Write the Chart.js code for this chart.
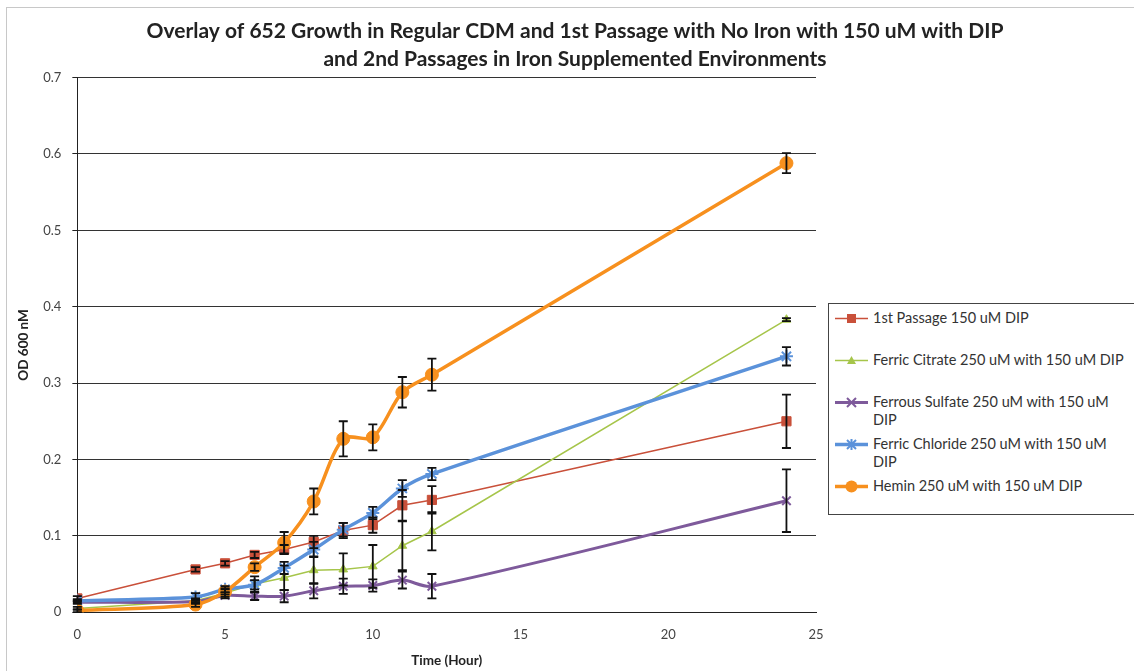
<!DOCTYPE html>
<html>
<head>
<meta charset="utf-8">
<script src="https://cdn.jsdelivr.net/npm/chart.js@4"></script>
<style>
  body { margin: 0; background: #fff; }
  #wrap { position: relative; width: 1134px; height: 671px; overflow: hidden; }
  #frame { position: absolute; left: 6px; top: 7px; width: 1140px; height: 680px; border: 1px solid #c8c8c8; }
  #legend {
    position: absolute; left: 828px; top: 303px; width: 310px; height: 212px;
    border: 1.5px solid #444; box-sizing: border-box; background: #fff;
    font-family: Lato, "Open Sans", sans-serif; font-size: 14.5px; color: #333;
  }
  .item { position: absolute; left: 6px; display: flex; align-items: flex-start; line-height: 18px; }
  .item svg { flex: none; margin-top: 3px; margin-right: 5px; }
  .item span { width: 256px; }
  canvas { position: relative; }
</style>
</head>
<body>
<div id="wrap">
  <div id="frame"></div>
  <canvas id="chart" width="1134" height="671"></canvas>
  <div id="legend"></div>
</div>
<script>
/* ------------------
  data
-------------------*/
var times = [0, 4, 5, 6, 7, 8, 9, 10, 11, 12, 24];

var seriesNames = [
  "1st Passage  150 uM DIP",
  "Ferric Citrate 250 uM with  150 uM DIP",
  "Ferrous Sulfate 250 uM  with  150 uM DIP",
  "Ferric Chloride 250 uM with  150 uM DIP",
  "Hemin 250 uM with 150 uM DIP"
];

var passage1      = [0.018, 0.056, 0.064, 0.075, 0.082, 0.092, 0.107, 0.114, 0.140, 0.147, 0.250];
var ferricCitrate = [0.005, 0.015, 0.025, 0.037, 0.045, 0.055, 0.056, 0.060, 0.087, 0.106, 0.383];
var ferrousSulf   = [0.013, 0.014, 0.022, 0.021, 0.021, 0.028, 0.034, 0.035, 0.042, 0.034, 0.146];
var ferricChlor   = [0.015, 0.020, 0.030, 0.036, 0.058, 0.082, 0.108, 0.130, 0.162, 0.181, 0.335];
var hemin         = [0.002, 0.010, 0.027, 0.059, 0.091, 0.145, 0.227, 0.229, 0.288, 0.311, 0.588];

// error bar half widths
var passage1Err      = [0.003, 0.003, 0.003, 0.004, 0.006, 0.008, 0.010, 0.010, 0.020, 0.018, 0.035];
var ferricCitrateErr = [0.002, 0.003, 0.005, 0.010, 0.016, 0.018, 0.021, 0.028, 0.032, 0.025, 0.002];
var ferrousSulfErr   = [0.002, 0.003, 0.004, 0.005, 0.008, 0.010, 0.010, 0.008, 0.011, 0.016, 0.041];
var ferricChlorErr   = [0.002, 0.005, 0.004, 0.006, 0.008, 0.010, 0.009, 0.008, 0.011, 0.008, 0.012];
var heminErr         = [0.002, 0.003, 0.004, 0.005, 0.014, 0.017, 0.023, 0.017, 0.020, 0.021, 0.013];

var colors = ["#C9503A", "#A6C54A", "#7E5A9B", "#5B92DA", "#F7901E"];

function pts(arr) {
  return arr.map(function (v, i) { return { x: times[i], y: v }; });
}

/* ------------------
  error bar plugin
-------------------*/
var errorBars = {
  id: 'errorBars',
  afterDatasetsDraw: function (chart) {
    var ctx = chart.ctx;
    var xs = chart.scales.x, ys = chart.scales.y;
    ctx.save();
    ctx.strokeStyle = '#111';
    ctx.lineWidth = 1.8;
    chart.data.datasets.forEach(function (ds) {
      ds.errors.forEach(function (e, i) {
        var x = xs.getPixelForValue(times[i]);
        var y1 = ys.getPixelForValue(ds.data[i].y - e);
        var y2 = ys.getPixelForValue(ds.data[i].y + e);
        ctx.beginPath();
        ctx.moveTo(x, y1); ctx.lineTo(x, y2);
        ctx.moveTo(x - 4.5, y1); ctx.lineTo(x + 4.5, y1);
        ctx.moveTo(x - 4.5, y2); ctx.lineTo(x + 4.5, y2);
        ctx.stroke();
      });
    });
    ctx.restore();
  }
};

var styles = [
  { pointStyle: 'rect', radius: 6.5, width: 1.5, tension: 0, order: 4 },
  { pointStyle: 'triangle', radius: 5, width: 1.5, tension: 0, order: 3 },
  { pointStyle: 'crossRot', radius: 6, width: 3, tension: 0.3, order: 2 },
  { pointStyle: 'star', radius: 6.5, width: 3.5, tension: 0.3, order: 1 },
  { pointStyle: 'circle', radius: 6.5, width: 3.5, tension: 0.3, order: 0 }
];
var values = [passage1, ferricCitrate, ferrousSulf, ferricChlor, hemin];
var errs = [passage1Err, ferricCitrateErr, ferrousSulfErr, ferricChlorErr, heminErr];

var datasets = values.map(function (v, k) {
  var s = styles[k];
  return {
    label: seriesNames[k],
    data: pts(v),
    errors: errs[k],
    borderColor: colors[k],
    backgroundColor: colors[k],
    borderWidth: s.width,
    pointStyle: s.pointStyle,
    pointRadius: s.radius,
    pointBorderWidth: s.pointStyle === 'crossRot' || s.pointStyle === 'star' ? 2 : 1,
    pointBorderColor: colors[k],
    pointBackgroundColor: colors[k],
    tension: s.tension,
    order: s.order
  };
});

var font = "Lato, 'Open Sans', sans-serif";

var chart = new Chart(document.getElementById("chart"), {
  type: 'line',
  data: { datasets: datasets },
  plugins: [errorBars],
  options: {
    responsive: false,
    animation: false,
    layout: { padding: { left: 16, right: 0, top: 0, bottom: 2 } },
    plugins: {
      legend: { display: false },
      tooltip: { enabled: false },
      title: {
        display: true,
        text: ["Overlay of 652 Growth in Regular CDM and 1st Passage with No Iron with 150 uM with DIP",
               "and 2nd Passages in Iron Supplemented Environments"],
        font: { family: font, size: 21, weight: 'bold', lineHeight: 1.3 },
        color: '#222',
        padding: { top: 18, bottom: 5 }
      }
    },
    scales: {
      x: {
        type: 'linear', min: 0, max: 25,
        ticks: { stepSize: 5, color: '#444', font: { family: font, size: 13 }, padding: 10 },
        grid: { display: false, drawOnChartArea: false, tickLength: 5, tickColor: '#222' },
        border: { color: '#222', width: 1 },
        title: { display: true, text: 'Time (Hour)', color: '#222',
                 font: { family: font, size: 13.5, weight: 'bold' }, padding: { top: 0, bottom: 0 } }
      },
      y: {
        min: 0, max: 0.7,
        ticks: { stepSize: 0.1, color: '#444', font: { family: font, size: 13 }, padding: 11 },
        grid: { color: '#333', lineWidth: 1, tickLength: 5, tickColor: '#222' },
        border: { color: '#222', width: 1 },
        title: { display: true, text: 'OD 600 nM', color: '#222',
                 font: { family: font, size: 13.5, weight: 'bold' }, padding: { top: 0, bottom: 0 } }
      },
      // empty axis that reserves the space the legend box sits in
      legendSpace: {
        position: 'right', min: 0, max: 1,
        ticks: { display: false },
        grid: { display: false },
        border: { display: false },
        afterFit: function (scale) { scale.width = 318; }
      }
    }
  }
});

/* ------------------
  legend
-------------------*/
var legendTops = [5, 47, 89, 131, 173];
var svgMarks = [
  '<rect x="12" y="2" width="9" height="9" fill="C"/>',
  '<polygon points="16.5,2 21,10 12,10" fill="C"/>',
  '<path d="M12 2 L21 11 M21 2 L12 11" stroke="C" stroke-width="2"/>',
  '<path d="M12 2 L21 11 M21 2 L12 11 M16.5 1 L16.5 12" stroke="C" stroke-width="2"/>',
  '<circle cx="16.5" cy="6.5" r="6" fill="C"/>'
];
var legendWidths = [1.5, 1.5, 3, 3.5, 3.5];
var html = "";
seriesNames.forEach(function (name, k) {
  var c = colors[k];
  html += '<div class="item" style="top:' + legendTops[k] + 'px">'
    + '<svg width="33" height="13"><line x1="0" y1="6.5" x2="33" y2="6.5" stroke="' + c
    + '" stroke-width="' + legendWidths[k] + '"/>' + svgMarks[k].replace(/C/g, c) + '</svg>'
    + '<span>' + name + '</span></div>';
});
document.getElementById("legend").innerHTML = html;
</script>
</body>
</html>
